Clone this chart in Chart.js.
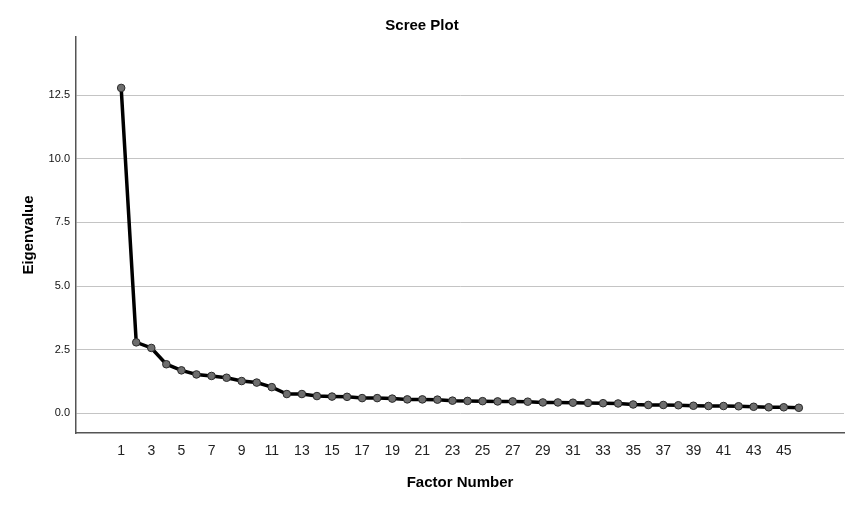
<!DOCTYPE html>
<html>
<head>
<meta charset="utf-8">
<script src="https://cdn.jsdelivr.net/npm/chart.js@4/dist/chart.umd.min.js"></script>
<style>
  html, body { margin: 0; padding: 0; background: #fff; }
  #wrap { width: 855px; height: 505px; }
</style>
</head>
<body>
<div id="wrap"><canvas id="scree" width="855" height="505"></canvas></div>
<script>
// Data
const factorNumbers = [1,2,3,4,5,6,7,8,9,10,11,12,13,14,15,16,17,18,19,20,21,22,23,
  24,25,26,27,28,29,30,31,32,33,34,35,36,37,38,39,40,41,42,43,44,45,46];
const eigenvalues = [12.78,2.79,2.57,1.93,1.69,1.53,1.47,1.40,1.27,1.21,1.03,0.76,0.76,
  0.68,0.66,0.65,0.60,0.60,0.58,0.55,0.55,0.54,0.50,0.49,0.48,0.47,0.47,0.46,0.43,
  0.43,0.42,0.41,0.40,0.39,0.35,0.33,0.33,0.32,0.30,0.29,0.29,0.28,0.26,0.24,0.24,0.22];
const xTicks = [1,3,5,7,9,11,13,15,17,19,21,23,25,27,29,31,33,35,37,39,41,43,45];
const yTicks = [0,2.5,5,7.5,10,12.5];

const font = "'Liberation Sans', Arial, sans-serif";

const ctx = document.getElementById("scree").getContext("2d");
new Chart(ctx, {
  type: "line",
  data: {
    datasets: [{
      label: "Eigenvalue",
      data: factorNumbers.map((f, i) => ({ x: f, y: eigenvalues[i] })),
      borderColor: "#000",
      borderWidth: 3.5,
      pointRadius: 3.8,
      pointBackgroundColor: "#6e6e6e",
      pointBorderColor: "#2a2a2a",
      pointBorderWidth: 1,
      tension: 0
    }]
  },
  options: {
    responsive: false,
    animation: false,
    devicePixelRatio: 1,
    layout: { padding: { left: 0, right: 11, top: 0, bottom: 0 } },
    plugins: {
      legend: { display: false },
      tooltip: { enabled: false },
      title: {
        display: true,
        text: "Scree Plot",
        color: "#000",
        font: { family: font, size: 15, weight: "bold" },
        padding: { top: 17, bottom: 2 }
      }
    },
    scales: {
      x: {
        type: "linear",
        min: -2,
        max: 49,
        afterFit: s => { s.height = 72; },
        afterBuildTicks: s => { s.ticks = xTicks.map(v => ({ value: v })); },
        grid: { display: false },
        border: { display: true, color: "#555", width: 1.5 },
        ticks: {
          color: "#222",
          font: { family: font, size: 14 },
          padding: 2,
          maxRotation: 0,
          autoSkip: false
        },
        title: {
          display: true,
          text: "Factor Number",
          color: "#000",
          font: { family: font, size: 15, weight: "bold" },
          padding: { top: 0, bottom: 13 }
        }
      },
      y: {
        min: -0.77,
        max: 14.78,
        afterFit: s => { s.width = 76; },
        afterBuildTicks: s => { s.ticks = yTicks.map(v => ({ value: v })); },
        grid: { color: "#c4c4c4", lineWidth: 1, drawTicks: false },
        border: { display: true, color: "#555", width: 1.5 },
        ticks: {
          color: "#111",
          font: { family: font, size: 11 },
          padding: 6,
          callback: v => v.toFixed(1)
        },
        title: {
          display: true,
          text: "Eigenvalue",
          color: "#000",
          font: { family: font, size: 15, weight: "bold" },
          padding: { top: 20, bottom: 0 }
        }
      }
    }
  }
});
</script>
</body>
</html>
